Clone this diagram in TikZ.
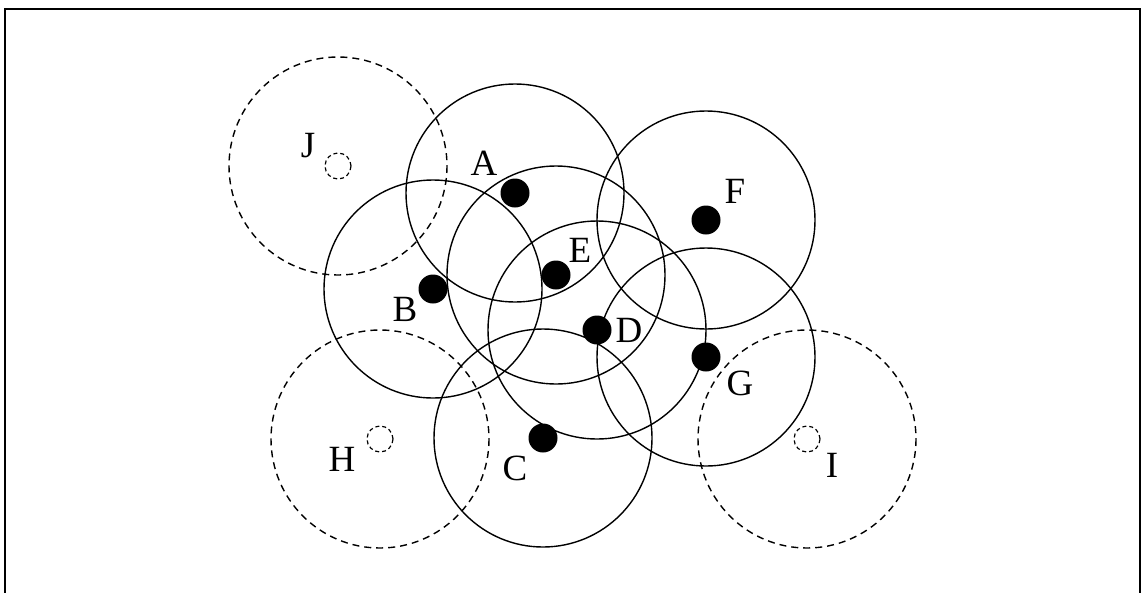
\documentclass[tikz,border=0pt]{standalone}
\usepackage{fontspec}
\setmainfont{Liberation Serif}
\begin{document}
\begin{tikzpicture}[x=1pt,y=-1pt,
  solidring/.style={draw,line width=1.4pt},
  dashring/.style={draw,line width=1.4pt,dash pattern=on 7pt off 5pt},
  nodedot/.style={circle,fill=black,minimum size=29pt,inner sep=0pt},
  offnode/.style={circle,draw,line width=1.2pt,dash pattern=on 4pt off 3pt,minimum size=26pt,inner sep=0pt},
  lab/.style={font=\fontsize{37}{40}\selectfont,inner sep=0pt}]
\useasboundingbox (0,0) rectangle (1142,592);
% frame (open at the bottom)
\draw[line width=2.4pt] (5,600) -- (5,9) -- (1140,9) -- (1140,600);
% nodes
\node[nodedot] (A) at (515,193) {};
\node[nodedot] (B) at (433,289) {};
\node[nodedot] (E) at (556,275) {};
\node[nodedot] (D) at (597,330) {};
\node[nodedot] (F) at (706,220) {};
\node[nodedot] (G) at (706,357) {};
\node[nodedot] (C) at (543,438) {};
\node[offnode] (H) at (380,439) {};
\node[offnode] (I) at (807,439) {};
\node[offnode] (J) at (338,166) {};
% ranges
\foreach \n in {A,B,E,D,F,G,C} {\draw[solidring] (\n) circle[radius=109];}
\foreach \n in {H,I,J} {\draw[dashring] (\n) circle[radius=109];}
% labels
\node[lab] (lA) at (484,163) {A};
\node[lab] (lB) at (405,309) {B};
\node[lab] (lC) at (515,468) {C};
\node[lab] (lD) at (629,330) {D};
\node[lab] (lE) at (580,250) {E};
\node[lab] (lF) at (735,191) {F};
\node[lab] (lG) at (740,383) {G};
\node[lab] (lH) at (342,459) {H};
\node[lab] (lI) at (832,465) {I};
\node[lab] (lJ) at (308,146) {J};
\end{tikzpicture}
\end{document}
